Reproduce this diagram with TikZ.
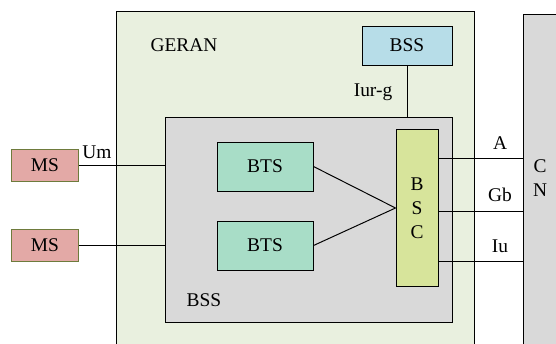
\documentclass[tikz,border=0pt]{standalone}
\usepackage{fontspec}
\setmainfont{Liberation Serif}
\definecolor{geranbg}{HTML}{E9F0DF}
\definecolor{bssgray}{HTML}{D9D9D9}
\definecolor{bssblue}{HTML}{B7DDE8}
\definecolor{btsgreen}{HTML}{A8DDC7}
\definecolor{bscgreen}{HTML}{D7E49B}
\definecolor{msred}{HTML}{E3A9A6}
\definecolor{msline}{HTML}{6E7B3C}
\begin{document}
\begin{tikzpicture}[x=0.025cm,y=-0.025cm,line width=0.7pt,
font=\fontsize{13.8}{17}\selectfont,
% common options for areas:
area/.style = {draw, rectangle, inner sep=0},
% common options for the small boxes:
unit/.style = {draw, rectangle, align=center, inner sep=0},
ms/.style = {unit, fill=msred, draw=msline, minimum width=1.65cm, minimum height=0.78cm}]
\useasboundingbox (0,0) rectangle (556,343);
\clip (0,0) rectangle (556,343);
\node[area, fill=geranbg, anchor=north west, minimum width=8.95cm, minimum height=9cm] (geran) at (115.5,11) {};
\node[area, fill=bssgray, anchor=north west, minimum width=1.5cm, minimum height=9cm] (cn) at (523,14) {};
\node[area, fill=bssgray, anchor=north west, minimum width=7.175cm, minimum height=5.125cm] (bss) at (165,117) {};
\node[unit, fill=bssblue, minimum width=2.25cm, minimum height=0.975cm] (bssup) at (407,45.5) {BSS};
\node[unit, fill=btsgreen, minimum width=2.4cm, minimum height=1.225cm] (bts1) at (265,166.5) {BTS};
\node[unit, fill=btsgreen, minimum width=2.4cm, minimum height=1.225cm] (bts2) at (265,245.5) {BTS};
\node[unit, fill=bscgreen, minimum width=1.05cm, minimum height=3.9cm] (bsc) at (417,208) {B\\S\\C};
\node[ms] (ms1) at (45,165.5) {MS};
\node[ms] (ms2) at (45,245.5) {MS};
\node (geranlbl) at (184,45) {GERAN};
\node (bsslbl) at (204,300) {BSS};
\node[align=center] (cnlbl) at (540,178) {C\\N};
\node (um) at (97,152) {Um};
\node (iurg) at (373,92) {Iur-g};
\node (a) at (500,143) {A};
\node (gb) at (500,195) {Gb};
\node (iu) at (500,246) {Iu};
\draw (ms1.east) -- (ms1.east -| bss.west);
\draw (ms2.east) -- (ms2.east -| bss.west);
\draw (bssup.south) -- (bssup.south |- bss.north);
\draw (bts1.east) -- (bsc.west);
\draw (bts2.east) -- (bsc.west);
\draw ([yshift=1.25cm]bsc.east) -- ([yshift=1.25cm]bsc.east -| cn.west);
\draw ([yshift=-0.075cm]bsc.east) -- ([yshift=-0.075cm]bsc.east -| cn.west);
\draw ([yshift=-1.325cm]bsc.east) -- ([yshift=-1.325cm]bsc.east -| cn.west);
\end{tikzpicture}
\end{document}
